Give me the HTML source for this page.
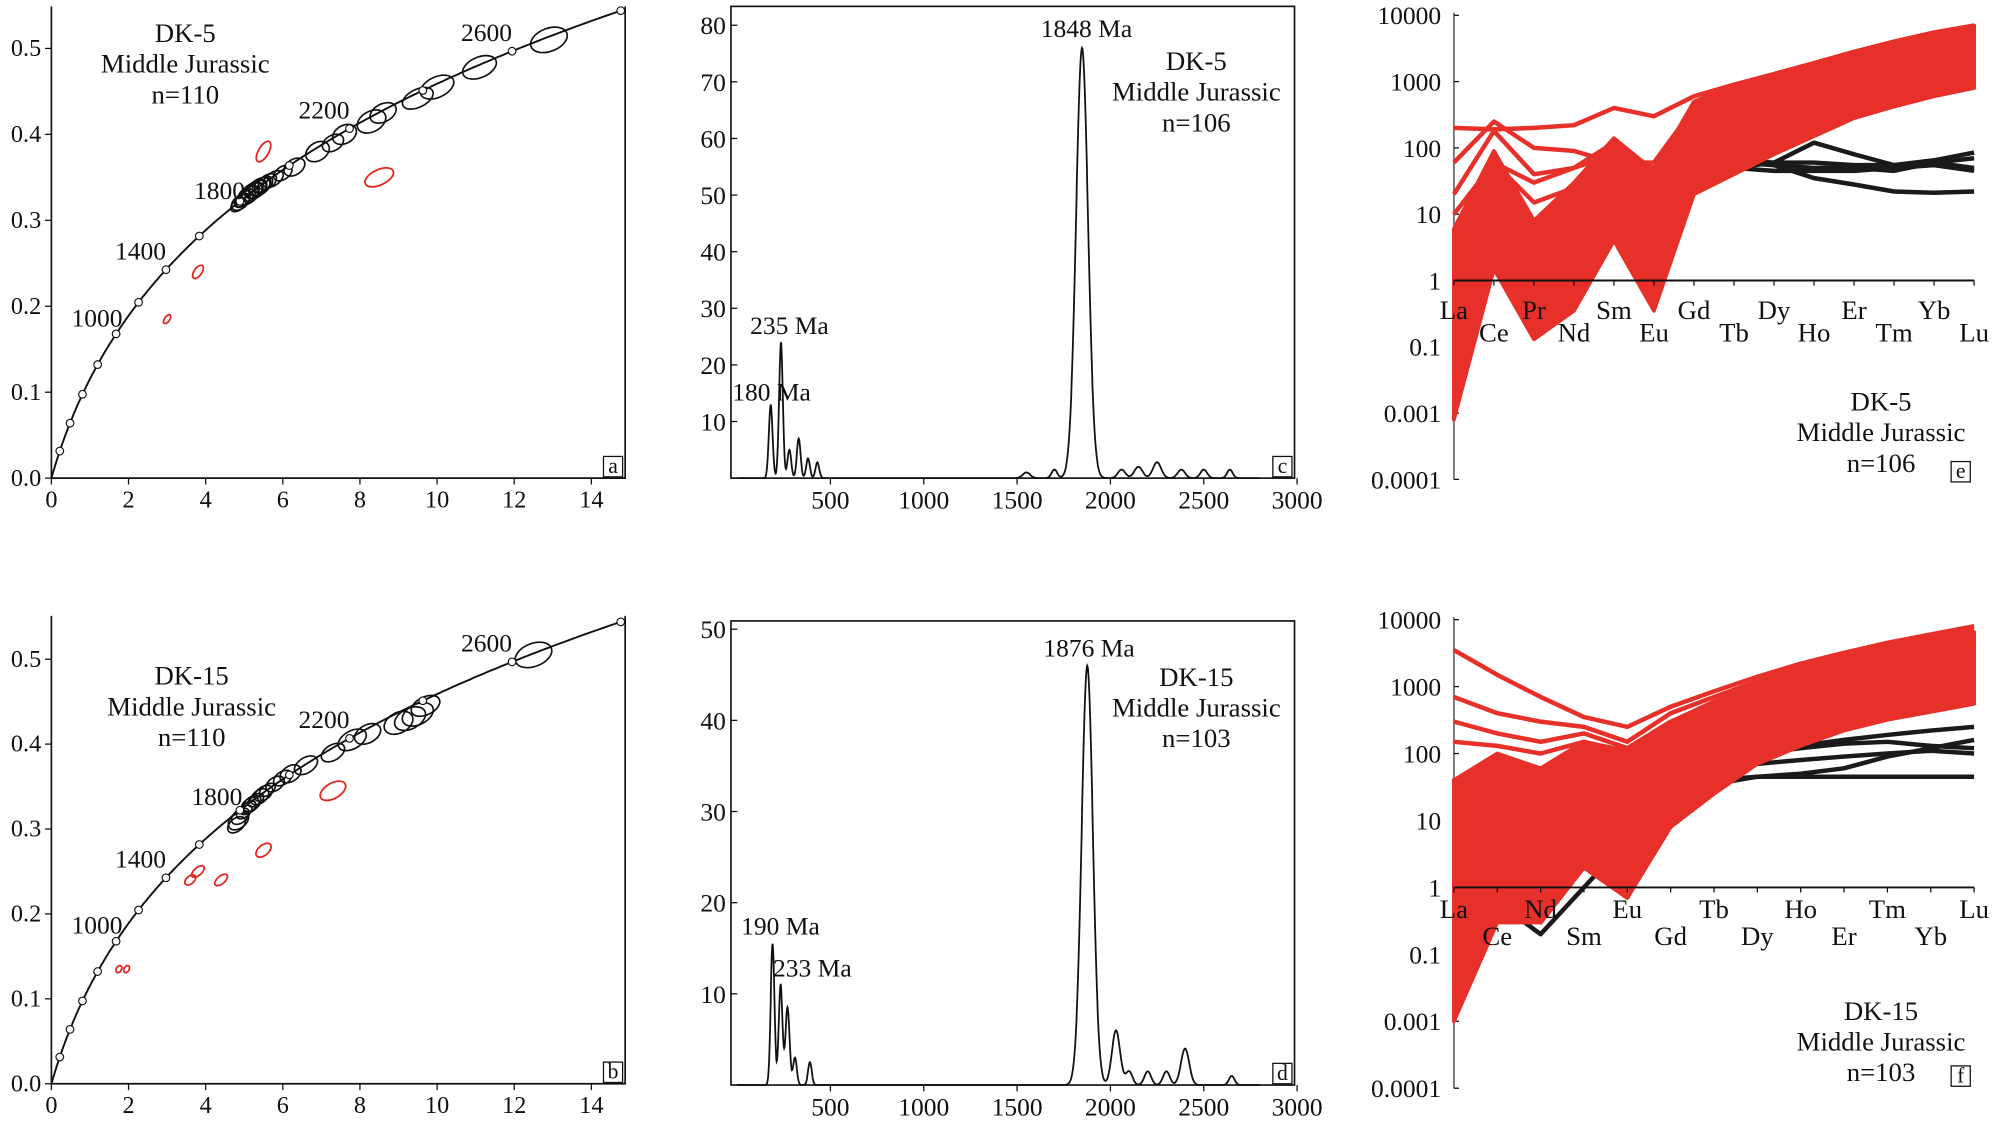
<!DOCTYPE html>
<html><head><meta charset="utf-8"><style>
html,body{margin:0;padding:0;background:#fff}
svg{display:block}
text{font-family:"Liberation Serif",serif;fill:#111}
</style></head><body>
<svg id="fig" width="2000" height="1122" viewBox="0 0 1568 880" xmlns="http://www.w3.org/2000/svg"></svg>
<script>
// ---------- DATA ----------
const concLabelAges = [1000, 1400, 1800, 2200, 2600];
const ellA_x = [4.85,4.9,4.95,5.0,5.05,5.1,5.15,5.2,5.25,5.3,5.35,5.4,5.45,5.5,5.6,5.75,6.0,6.3,6.9,7.3,7.6,8.3,8.6,9.5,10.0,11.1,12.9];
const ellA_y = [0.318,0.321,0.323,0.325,0.327,0.329,0.331,0.333,0.335,0.336,0.338,0.339,0.341,0.342,0.345,0.348,0.355,0.362,0.38,0.39,0.40,0.415,0.425,0.442,0.455,0.478,0.51];
const ellA_rx = [7,8,7,8,8,9,8,9,8,9,8,9,8,8,8,9,8,9,10,9,10,12,11,13,14,14,15];
const ellA_ry = [4,5,4,5,5,6,5,6,5,6,5,6,5,5,5,5,5,6,7,6,7,8,7,7,8,8,9];
const redA_x = [5.5,8.5,3.8,3.0];
const redA_y = [0.38,0.35,0.24,0.185];
const redA_rx = [9,12,6,4];
const redA_ry = [4,6,3,2];
const redA_rot = [-60,-25,-55,-55];
const ellB_x = [4.8,4.85,4.9,5.0,5.1,5.15,5.2,5.3,5.4,5.5,5.6,5.8,6.0,6.2,6.6,7.3,7.8,8.2,9.0,9.3,9.5,9.7,12.5];
const ellB_y = [0.305,0.31,0.315,0.32,0.325,0.328,0.33,0.334,0.338,0.342,0.346,0.353,0.36,0.365,0.375,0.39,0.405,0.412,0.425,0.43,0.435,0.445,0.505];
const ellB_rx = [8,9,8,7,7,8,8,7,8,8,7,8,8,9,10,10,12,11,12,13,13,12,15];
const ellB_ry = [5,6,5,4,4,5,5,4,5,5,4,5,5,6,6,6,7,7,8,8,8,7,9];
const redB_x = [7.3,5.5,4.4,3.8,3.6,1.95,1.75];
const redB_y = [0.345,0.275,0.24,0.25,0.24,0.135,0.135];
const redB_rx = [11,7,6,6,5,3,3];
const redB_ry = [6,4,3,3,3,2,2];
const redB_rot = [-30,-40,-40,-40,-40,-60,-60];
const kdeC_age = [180,235,280,330,380,430,1550,1700,1848,2060,2150,2250,2380,2500,2640];
const kdeC_h = [13,24,5,7,3.5,2.8,1,1.5,76,1.5,2,2.8,1.5,1.5,1.5];
const kdeC_w = [10,10,10,10,10,10,20,15,32,20,22,22,20,18,15];
const kdeD_age = [190,233,270,310,390,1876,2030,2100,2200,2300,2400,2650];
const kdeD_h = [15.5,11,8.5,3,2.5,46,6,1.5,1.5,1.5,4,1];
const kdeD_w = [10,10,11,10,10,30,22,18,18,18,22,15];
const reeE_labels = ["La","Ce","Pr","Nd","Sm","Eu","Gd","Tb","Dy","Ho","Er","Tm","Yb","Lu"];
const reeE_upper = [6,90,8,30,140,45,500,900,1300,1900,2800,4000,5500,7000];
const reeE_lower = [0.008,1.5,0.13,0.35,4,0.35,20,40,80,150,280,420,600,800];
const reeE_red = [
 [200,190,200,220,400,300,600,900,1300,1900,2800,4000,5500,7000],
 [60,250,100,90,60,60,400,800,1300,1900,2800,4000,5500,7000],
 [20,180,40,50,80,50,300,600,1000,1500,2200,3100,4200,5500],
 [10,60,30,50,120,30,200,400,700,1100,1700,2500,3400,4500],
 [5,60,15,25,100,20,150,300,550,900,1400,2100,3000,4000],
 [2,40,5,15,60,10,100,200,400,700,1100,1600,2300,3000],
 [0.5,20,1,5,30,5,60,120,250,450,750,1100,1600,2100],
 [0.05,5,0.2,1,10,1,30,60,120,220,400,600,850,1100],
 [0.01,3,0.15,0.5,5,0.4,25,50,100,180,320,480,700,900]
];
const reeE_black = [
 [3,5,2,6,30,0.4,40,50,60,120,80,55,60,50],
 [2,4,2,5,25,2,40,60,55,50,50,45,60,70],
 [3,5,3,6,20,3,45,65,55,35,28,22,21,22],
 [2.5,4,2,5,25,2,50,65,60,60,55,55,65,85],
 [2,4,2,5,25,2,45,50,45,45,45,50,55,45]
];
const reeF_labels = ["La","Ce","Nd","Sm","Eu","Gd","Tb","Dy","Ho","Er","Tm","Yb","Lu"];
const reeF_upper = [40,100,60,150,110,300,600,1100,1800,2700,3800,5000,6500];
const reeF_lower = [0.01,0.3,0.3,2,0.7,8,25,70,130,220,320,420,550];
const reeF_red = [
 [3500,1500,700,350,250,500,850,1400,2200,3200,4500,6000,8000],
 [700,400,300,250,150,400,700,1200,1900,2800,3900,5300,7000],
 [300,200,150,200,120,300,550,1000,1600,2300,3300,4500,6000],
 [150,130,100,150,100,250,450,800,1300,1900,2700,3700,5000],
 [40,80,20,60,30,150,300,550,900,1400,2000,2800,3800],
 [3,30,5,25,10,60,150,300,550,850,1300,1800,2500],
 [0.3,10,1,8,2,25,70,160,300,500,750,1050,1400],
 [0.01,2,0.3,2,0.7,10,30,80,140,240,350,450,600]
];
const reeF_black = [
 [2,0.6,0.2,1,5,20,35,45,50,60,90,120,160],
 [3,5,5,10,15,30,40,45,45,45,45,45,45],
 [1.5,1,0.5,2,8,25,60,100,130,160,190,220,250],
 [2,3,3,8,12,40,70,100,120,140,150,130,120],
 [1.5,2,2,6,10,30,50,70,80,90,100,110,100]
];

// ---------- HELPERS ----------
const NS = "http://www.w3.org/2000/svg";
const svg = document.getElementById("fig");
function el(tag, attrs, parent) {
  const e = document.createElementNS(NS, tag);
  for (const k in attrs) e.setAttribute(k, attrs[k]);
  (parent || svg).appendChild(e);
  return e;
}
function txt(x, y, s, size, anchor, parent) {
  const t = el("text", {x: x, y: y, "font-size": size, "text-anchor": anchor || "start"}, parent);
  t.textContent = s;
  return t;
}
function group(name) {
  const g = el("g", {});
  
  
  return g;
}
function boxLabel(x, y, s, g) {
  const r = el("rect", {x: x, y: y, width: 15, height: 16, fill: "#fff", stroke: "#111", "stroke-width": 1}, g);
  
  
  txt(x + 7.5, y + 13, s, 17, "middle", g);
}

// ---------- CONCORDIA PANELS ----------
function concordia(name, top, bottom, y05, letter, ex, ey, erx, ery, rx, ry, rrx, rry, rrot, title, labelPos) {
  const g = group(name);
  const L = 40, R = 490;
  const X = v => L + v * 30.25;
  const Y = v => bottom - v * (bottom - y05) / 0.5;
  const frame = el("path", {d: `M${L},${top}V${bottom}H${R}V${top}`, fill: "none", stroke: "#111", "stroke-width": 1.3}, g);
  
  
  for (let v = 0; v <= 14; v += 2) {
    el("line", {x1: X(v), y1: bottom, x2: X(v), y2: bottom + 5, stroke: "#111"}, g);
    const t = txt(X(v), bottom + 23, String(v), 19, "middle", g);
    
    
  }
  for (let v = 0; v <= 0.5001; v += 0.1) {
    el("line", {x1: L - 5, y1: Y(v), x2: L, y2: Y(v), stroke: "#111"}, g);
    const t = txt(L - 8, Y(v) + 6, v.toFixed(1), 19, "end", g);
    
    
  }
  let d = "";
  for (let t = 0; t <= 3520; t += 10) {
    const x = Math.exp(9.8485e-4 * t) - 1, y = Math.exp(1.55125e-4 * t) - 1;
    if (x > 14.85) break;
    d += (d ? "L" : "M") + X(x).toFixed(1) + "," + Y(y).toFixed(1);
  }
  const c = el("path", {d: d, fill: "none", stroke: "#111", "stroke-width": 1.5}, g);
  
  
  const ang = t => {
    const x1 = X(Math.exp(9.8485e-4 * t) - 1), y1 = Y(Math.exp(1.55125e-4 * t) - 1);
    const x2 = X(Math.exp(9.8485e-4 * (t + 20)) - 1), y2 = Y(Math.exp(1.55125e-4 * (t + 20)) - 1);
    return Math.atan2(y2 - y1, x2 - x1) * 180 / Math.PI;
  };
  for (let i = 0; i < ex.length; i++) {
    const cx = X(ex[i]), cy = Y(ey[i]);
    const t = Math.log(1 + ey[i]) / 1.55125e-4;
    const e = el("ellipse", {cx: cx, cy: cy, rx: erx[i], ry: ery[i], fill: "none", stroke: "#111", "stroke-width": 1.3, transform: `rotate(${ang(t)} ${cx} ${cy})`}, g);
    
    
  }
  for (let i = 0; i < rx.length; i++) {
    const cx = X(rx[i]), cy = Y(ry[i]);
    const e = el("ellipse", {cx: cx, cy: cy, rx: rrx[i], ry: rry[i], fill: "none", stroke: "#e3261f", "stroke-width": 1.4, transform: `rotate(${rrot[i]} ${cx} ${cy})`}, g);
    
    
  }
  for (let t = 200; t <= 3400; t += 200) {
    const x = Math.exp(9.8485e-4 * t) - 1, y = Math.exp(1.55125e-4 * t) - 1;
    if (x > 14.85) break;
    const m = el("circle", {cx: X(x), cy: Y(y), r: 3, fill: "#fff", stroke: "#111", "stroke-width": 0.9}, g);
    
    
  }
  concLabelAges.forEach((a, i) => {
    const x = Math.exp(9.8485e-4 * a) - 1, y = Math.exp(1.55125e-4 * a) - 1;
    const t = txt(X(x) + labelPos[i][0], Y(y) + labelPos[i][1], String(a), 20, "end", g);
    
    
  });
  title.forEach((s, i) => txt(title.x, title.y + i * 24, s, 21, "middle", g));
  boxLabel(473, bottom - 17, letter, g);
}
const tA = ["DK-5", "Middle Jurassic", "n=110"]; tA.x = 145; tA.y = 33;
concordia("panel-a-concordia", 5, 375, 38, "a", ellA_x, ellA_y, ellA_rx, ellA_ry, redA_x, redA_y, redA_rx, redA_ry, redA_rot, tA, [[5,-6],[0,-8],[4,-2],[0,-8],[0,-8]]);
const tB = ["DK-15", "Middle Jurassic", "n=110"]; tB.x = 150; tB.y = 537;
concordia("panel-b-concordia", 483, 850, 517, "b", ellB_x, ellB_y, ellB_rx, ellB_ry, redB_x, redB_y, redB_rx, redB_ry, redB_rot, tB, [[5,-6],[0,-8],[2,-4],[0,-8],[0,-8]]);

// ---------- KDE PANELS ----------
function kde(name, top, bottom, perTen, yMax, ages, hs, ws, peaks, title, letter) {
  const g = group(name);
  const L = 573, R = 1015;
  const X = a => 577.8 + a * 73.2 / 500;
  const Y = v => bottom - v * perTen / 10;
  const f = el("rect", {x: L, y: top, width: R - L, height: bottom - top, fill: "none", stroke: "#111", "stroke-width": 1.3}, g);
  
  
  for (let a = 500; a <= 3000; a += 500) {
    el("line", {x1: X(a), y1: bottom, x2: X(a), y2: bottom + 5, stroke: "#111"}, g);
    const t = txt(X(a), bottom + 24, String(a), 20, "middle", g);
    
    
  }
  for (let v = 10; v <= yMax; v += 10) {
    el("line", {x1: L, y1: Y(v), x2: L + 5, y2: Y(v), stroke: "#111"}, g);
    const t = txt(L - 4, Y(v) + 7, String(v), 20, "end", g);
    
    
  }
  let d = "";
  for (let a = 0; a <= 2800; a += 2) {
    let v = 0;
    for (let i = 0; i < ages.length; i++) v += hs[i] * Math.exp(-Math.pow(a - ages[i], 2) / (2 * ws[i] * ws[i]));
    d += (d ? "L" : "M") + X(a).toFixed(1) + "," + Y(v).toFixed(1);
  }
  const p = el("path", {d: d, fill: "none", stroke: "#111", "stroke-width": 1.4}, g);
  
  
  peaks.forEach(pk => {
    const t = txt(pk[1], pk[2], pk[0], 20, "start", g);
    
    
  });
  title.forEach((s, i) => txt(938, title.y + i * 24, s, 21, "middle", g));
  boxLabel(998, bottom - 17, letter, g);
}
const tC = ["DK-5", "Middle Jurassic", "n=106"]; tC.y = 55;
kde("panel-c-kde", 5, 375, 44.4, 80, kdeC_age, kdeC_h, kdeC_w, [["1848 Ma", 816, 29], ["235 Ma", 588, 262], ["180 Ma", 574, 314]], tC, "c");
const tD = ["DK-15", "Middle Jurassic", "n=103"]; tD.y = 538;
kde("panel-d-kde", 487, 851, 71.5, 50, kdeD_age, kdeD_h, kdeD_w, [["1876 Ma", 818, 515], ["190 Ma", 581, 733], ["233 Ma", 606, 766]], tD, "d");

// ---------- REE PANELS ----------
function ree(name, top, one, dec, labels, upper, lower, reds, blacks, labelRows, title, letter) {
  const g = group(name);
  const L = 1140, R = 1548;
  const step = (R - L) / (labels.length - 1);
  const X = i => L + i * step;
  const Y = v => one - Math.log10(v) * dec;
  const ax = el("line", {x1: L, y1: top, x2: L, y2: one + 3 * dec, stroke: "#777", "stroke-width": 1.5}, g);
  
  
  const yl = ["10000", "1000", "100", "10", "1", "0.1", "0.001", "0.0001"];
  yl.forEach((s, i) => {
    const y = one - (4 - i) * dec;
    el("line", {x1: L, y1: y, x2: L + 4, y2: y, stroke: "#111"}, g);
    const t = txt(L - 10, y + 7, s, 20, "end", g);
    
    
  });
  blacks.forEach(s => {
    let p = "";
    s.forEach((v, i) => p += (i ? "L" : "M") + X(i).toFixed(1) + "," + Y(v).toFixed(1));
    const l = el("path", {d: p, fill: "none", stroke: "#1a1a1a", "stroke-width": 3.5, "stroke-linejoin": "round"}, g);
    
    
  });
  let d = "";
  upper.forEach((v, i) => d += (i ? "L" : "M") + X(i).toFixed(1) + "," + Y(v).toFixed(1));
  for (let i = lower.length - 1; i >= 0; i--) d += "L" + X(i).toFixed(1) + "," + Y(lower[i]).toFixed(1);
  const env = el("path", {d: d + "Z", fill: "#e8302a", stroke: "#e8302a", "stroke-width": 3, "stroke-linejoin": "round"}, g);
  
  
  reds.forEach(s => {
    let p = "";
    s.forEach((v, i) => p += (i ? "L" : "M") + X(i).toFixed(1) + "," + Y(v).toFixed(1));
    const l = el("path", {d: p, fill: "none", stroke: "#e8302a", "stroke-width": 3.5, "stroke-linejoin": "round"}, g);
    
    
  });
  const xa = el("line", {x1: L, y1: one, x2: R, y2: one, stroke: "#111", "stroke-width": 1.5}, g);
  
  
  labels.forEach((s, i) => {
    el("line", {x1: X(i), y1: one, x2: X(i), y2: one + 4, stroke: "#111"}, g);
    const t = txt(X(i), one + labelRows[i % 2], s, 21, "middle", g);
    
    
  });
  title.forEach((s, i) => txt(1475, title.y + i * 24, s, 21, "middle", g));
  boxLabel(1530, letter[1], letter[0], g);
}
const tE = ["DK-5", "Middle Jurassic", "n=106"]; tE.y = 322;
ree("panel-e-ree", 10, 220, 52, reeE_labels, reeE_upper, reeE_lower, reeE_red, reeE_black, [30, 48], tE, ["e", 362]);
const tF = ["DK-15", "Middle Jurassic", "n=103"]; tF.y = 800;
ree("panel-f-ree", 484, 696, 52.5, reeF_labels, reeF_upper, reeF_lower, reeF_red, reeF_black, [24, 45], tF, ["f", 836]);
</script>
</body></html>
